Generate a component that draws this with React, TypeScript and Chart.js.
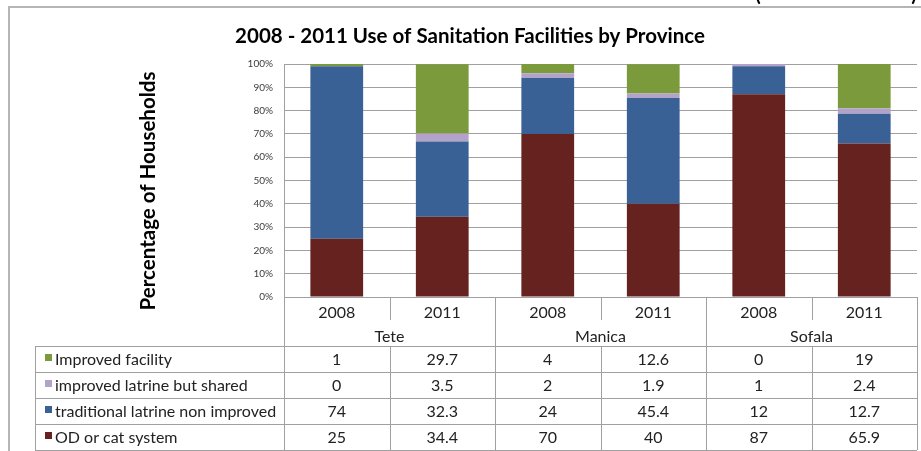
import React, { useEffect, useRef } from "react";
import { Chart, registerables } from "chart.js";

Chart.register(...registerables);

// ---- data ----
const years = ["2008", "2011", "2008", "2011", "2008", "2011"];
const provinces = ["Tete", "Manica", "Sofala"];
const seriesNames = [
  "Improved facility",
  "improved latrine but shared",
  "traditional latrine non improved",
  "OD or cat system",
];
const improvedFacility = [1, 29.7, 4, 12.6, 0, 19];
const improvedShared = [0, 3.5, 2, 1.9, 1, 2.4];
const traditionalLatrine = [74, 32.3, 24, 45.4, 12, 12.7];
const odCatSystem = [25, 34.4, 70, 40, 87, 65.9];
const yTicks = [0, 10, 20, 30, 40, 50, 60, 70, 80, 90, 100];
const chartTitle = "2008 - 2011 Use of Sanitation Facilities by Province";
const yTitle = "Percentage of Households";

const seriesColors = ["#7A9A3C", "#B3A3C9", "#3A6195", "#66221F"];
const tableRows = [improvedFacility, improvedShared, traditionalLatrine, odCatSystem];

const FONT = "Lato, 'Open Sans', sans-serif";
const LINE = "#a0a0a0";

const tablePlugin = {
  id: "dataTable",
  beforeDraw(chart: any) {
    const ctx = chart.ctx;
    ctx.save();
    ctx.fillStyle = "#ffffff";
    ctx.fillRect(0, 0, chart.width, chart.height);
    // outer frame
    ctx.strokeStyle = "#b5b5b5";
    ctx.lineWidth = 2;
    ctx.beginPath();
    ctx.moveTo(9, chart.height);
    ctx.lineTo(9, 7);
    ctx.lineTo(chart.width, 7);
    ctx.stroke();
    // cropped parentheses above the frame
    ctx.fillStyle = "#000";
    ctx.font = `bold 20px ${FONT}`;
    ctx.textBaseline = "alphabetic";
    ctx.textAlign = "center";
    ctx.fillText("(", 758, 1);
    ctx.fillText(")", 914, 1);
    ctx.restore();
  },
  afterDraw(chart: any) {
    const ctx = chart.ctx;
    const x = chart.scales.x;
    const area = chart.chartArea;
    const n = years.length;
    const half = (x.getPixelForValue(1) - x.getPixelForValue(0)) / 2;
    const colLeft = (i: number) => x.getPixelForValue(i) - half;
    const left = area.left;
    const right = colLeft(n);
    const top = area.bottom;
    const yearBottom = top + 23;
    const dataTop = top + 49;
    const rowH = 26;
    const bottom = dataTop + rowH * tableRows.length;
    const legendLeft = 35;

    ctx.save();
    // y axis title
    ctx.save();
    ctx.translate(148, 191);
    ctx.rotate(-Math.PI / 2);
    ctx.fillStyle = "#000";
    ctx.font = `bold 20.5px ${FONT}`;
    ctx.textAlign = "center";
    ctx.textBaseline = "middle";
    ctx.fillText(yTitle, 0, 0);
    ctx.restore();

    ctx.strokeStyle = LINE;
    ctx.lineWidth = 1;
    const hl = (x1: number, x2: number, y: number) => {
      ctx.beginPath();
      ctx.moveTo(x1, Math.round(y) + 0.5);
      ctx.lineTo(x2, Math.round(y) + 0.5);
      ctx.stroke();
    };
    const vl = (xx: number, y1: number, y2: number) => {
      ctx.beginPath();
      ctx.moveTo(Math.round(xx) + 0.5, y1);
      ctx.lineTo(Math.round(xx) + 0.5, y2);
      ctx.stroke();
    };
    hl(left, right, top);
    hl(legendLeft, right, dataTop);
    for (let r = 1; r <= tableRows.length; r++) hl(legendLeft, right, dataTop + rowH * r);
    vl(legendLeft, dataTop, bottom);
    vl(left, top, bottom);
    vl(right, top, bottom);
    for (let i = 1; i < n; i++) {
      const xx = colLeft(i);
      if (i % 2 === 0) vl(xx, top, bottom);
      else {
        vl(xx, top, yearBottom);
        vl(xx, dataTop, bottom);
      }
    }

    // province labels
    ctx.fillStyle = "#222";
    ctx.font = `16px ${FONT}`;
    ctx.textAlign = "center";
    ctx.textBaseline = "middle";
    provinces.forEach((p, k) => {
      ctx.fillText(p, colLeft(2 * k + 1), top + 40);
    });

    // legend + values
    tableRows.forEach((row, r) => {
      const cy = dataTop + rowH * r + rowH / 2 + 1;
      ctx.fillStyle = seriesColors[r];
      ctx.fillRect(45, cy - 6, 7, 7);
      ctx.fillStyle = "#222";
      ctx.textAlign = "left";
      ctx.fillText(seriesNames[r], 55, cy);
      ctx.textAlign = "center";
      row.forEach((v, i) => {
        ctx.fillText(String(v), x.getPixelForValue(i), cy);
      });
    });
    ctx.restore();
  },
};

export default function App() {
  const ref = useRef<HTMLCanvasElement | null>(null);
  useEffect(() => {
    if (!ref.current) return;
    const chart = new Chart(ref.current, {
      type: "bar",
      data: {
        labels: years,
        datasets: [
          { label: seriesNames[3], data: odCatSystem, backgroundColor: seriesColors[3] },
          { label: seriesNames[2], data: traditionalLatrine, backgroundColor: seriesColors[2] },
          { label: seriesNames[1], data: improvedShared, backgroundColor: seriesColors[1] },
          { label: seriesNames[0], data: improvedFacility, backgroundColor: seriesColors[0] },
        ],
      },
      options: {
        responsive: false,
        animation: false,
        layout: { padding: { top: 24, left: 23, right: 4, bottom: 0 } },
        datasets: { bar: { barPercentage: 0.5, categoryPercentage: 1 } },
        plugins: {
          legend: { display: false },
          tooltip: { enabled: false },
          title: {
            display: true,
            text: chartTitle,
            color: "#000",
            font: { family: FONT, size: 20.5, weight: "bold" },
            padding: { top: 0, bottom: 15.4 },
          },
        },
        scales: {
          x: {
            stacked: true,
            grid: { display: false, drawTicks: false },
            border: { display: false },
            ticks: { color: "#222", font: { family: FONT, size: 16 }, padding: 6 },
            afterFit: (s: any) => {
              s.height = 154;
            },
          },
          y: {
            stacked: true,
            min: 0,
            max: 100,
            afterBuildTicks: (s: any) => {
              s.ticks = yTicks.map((v) => ({ value: v }));
            },
            grid: { color: LINE, drawTicks: false },
            border: { display: true, color: LINE },
            ticks: {
              color: "#3c3c3c",
              font: { family: FONT, size: 10 },
              padding: 11,
              callback: (v: any) => `${v}%`,
            },
            afterFit: (s: any) => {
              s.width = 261;
            },
          },
        },
      },
      plugins: [tablePlugin],
    });
    return () => chart.destroy();
  }, []);
  return (
    <div style={{ position: "absolute", left: 0, top: 0, width: 921, height: 451 }}>
      <canvas ref={ref} width={921} height={451} style={{ display: "block" }} />
    </div>
  );
}
